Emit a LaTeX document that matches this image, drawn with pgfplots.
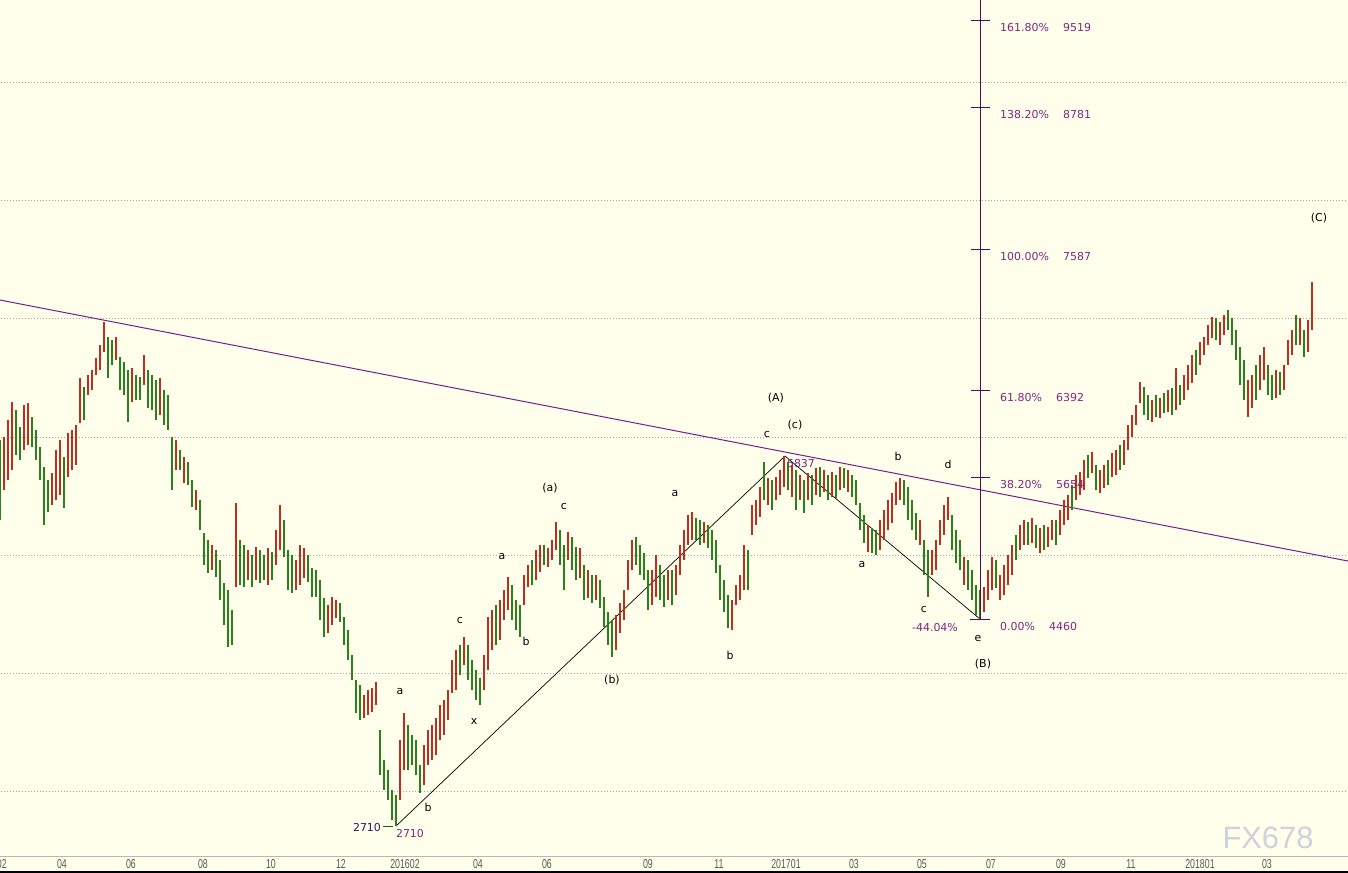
\documentclass[border=0pt]{standalone}
\usepackage{fontspec}
\usepackage{pgfplots}
\usepackage{pgfplotstable}
\pgfplotsset{compat=1.18}
\setmainfont{DejaVu Sans}
\newfontfamily\tickfont[FakeStretch=0.68]{Liberation Sans}
\newfontfamily\wmfont{Liberation Sans}

\definecolor{bg}{RGB}{255,255,235}
\definecolor{upc}{RGB}{190,45,30}
\definecolor{dnc}{RGB}{40,130,25}
\definecolor{trend}{RGB}{120,30,140}
\definecolor{fibc}{RGB}{80,10,80}
\definecolor{fibt}{RGB}{128,40,128}
\definecolor{gridc}{RGB}{165,165,165}
\definecolor{baseline}{RGB}{60,90,95}

% daily bars: x = bar position, h = high, l = low, c = 1 up / 0 down
\pgfplotstableread{
x h l c
0 5973 5296 0
4 5998 5550 1
8 6142 5634 1
12 6294 5719 1
16 6226 5846 0
20 6083 5804 0
24 6269 5888 1
28 6286 5931 1
32 6167 5914 0
36 6057 5804 0
40 5914 5634 0
44 5744 5254 0
48 5634 5364 0
52 5693 5423 1
56 5888 5465 1
60 5973 5508 1
64 5829 5397 0
68 6032 5660 1
72 6057 5719 1
76 6100 5761 1
80 6497 6117 1
84 6421 6142 0
88 6522 6353 1
92 6565 6396 1
96 6666 6522 1
100 6776 6565 1
104 6970 6717 1
108 6843 6497 0
112 6818 6607 0
116 6843 6649 1
120 6674 6396 0
124 6632 6353 0
128 6565 6125 0
132 6581 6294 1
136 6522 6311 0
140 6505 6311 0
144 6691 6438 1
148 6565 6243 0
152 6522 6226 0
156 6480 6142 0
160 6497 6184 1
164 6396 6100 0
168 6353 6057 0
172 5998 5550 0
176 5973 5719 1
180 5888 5719 0
184 5829 5609 1
188 5787 5592 0
192 5634 5406 0
196 5550 5381 1
200 5465 5212 0
204 5186 4916 0
208 5127 4848 0
212 5085 4873 1
216 5043 4815 0
220 4958 4620 0
224 4764 4409 0
228 4705 4223 0
232 4536 4240 0
236 5440 4730 1
240 5127 4747 0
244 5085 4730 0
248 5043 4789 1
252 5001 4730 0
256 5068 4789 1
260 5043 4764 0
264 5001 4789 0
268 5060 4747 1
272 5026 4789 0
276 5212 4916 1
280 5423 5043 1
284 5296 4984 0
288 5043 4705 0
292 5001 4679 0
296 4958 4705 1
300 5085 4747 1
304 5060 4806 1
308 5001 4772 0
312 4891 4645 0
316 4874 4645 0
320 4789 4451 0
324 4637 4307 0
328 4578 4341 1
332 4645 4409 1
336 4620 4468 1
340 4595 4434 0
344 4476 4240 0
348 4366 4113 0
352 4155 3944 0
356 3944 3665 0
360 3902 3606 0
364 3817 3623 1
368 3860 3648 1
372 3877 3674 1
376 3927 3733 1
380 3522 3141 0
384 3268 3015 0
388 3184 2930 0
392 3015 2761 0
396 2972 2710 0
400 3437 2930 1
404 3665 3184 1
408 3564 3184 0
412 3479 3226 0
416 3437 3141 0
420 3226 2989 0
424 3395 3057 1
428 3522 3226 1
432 3564 3268 1
436 3623 3310 1
440 3733 3437 1
444 3775 3479 1
448 3860 3606 1
452 4113 3834 1
456 4198 3860 1
460 4240 3987 0
464 4307 4071 1
468 4240 3944 0
472 4113 3860 0
476 4029 3775 0
480 3961 3733 0
484 4155 3860 1
488 4476 4029 1
492 4536 4198 1
496 4578 4240 0
500 4620 4282 1
504 4705 4451 1
508 4815 4536 1
512 4747 4451 0
516 4620 4366 0
520 4578 4307 0
524 4832 4578 1
528 4916 4730 1
532 4958 4747 0
536 5043 4789 1
540 5085 4857 1
544 5085 4916 0
548 5060 4899 1
552 5127 4958 1
556 5280 5043 1
560 5212 4916 0
564 5085 4705 0
568 5195 4958 1
572 5153 4874 0
576 5068 4789 0
580 5060 4806 1
584 4916 4620 0
588 4874 4637 1
592 4832 4595 0
596 4832 4620 1
600 4789 4553 0
604 4645 4392 0
608 4519 4240 0
612 4451 4138 0
616 4493 4198 1
620 4595 4341 1
624 4705 4451 1
628 4958 4705 1
632 5127 4874 1
636 5153 4916 0
640 5085 4832 0
644 5018 4789 0
648 4874 4536 0
652 4874 4578 1
656 5001 4645 1
660 4916 4620 0
664 4832 4561 0
668 4874 4620 1
672 4874 4578 0
676 4916 4663 1
680 5085 4832 1
684 5212 4958 1
688 5339 5085 1
692 5364 5127 1
696 5313 5127 0
700 5296 5085 0
704 5280 5102 1
708 5254 5060 0
712 5212 4958 0
716 5127 4848 0
720 4916 4620 0
724 4789 4519 0
728 4663 4384 0
732 4620 4366 1
736 4747 4578 1
740 4832 4620 1
744 5085 4705 1
748 5043 4705 0
752 5423 5170 1
756 5465 5254 1
760 5575 5322 1
764 5787 5465 0
768 5651 5423 1
772 5634 5381 0
776 5660 5465 1
780 5719 5508 1
784 5837 5575 1
788 5787 5550 0
792 5761 5491 1
796 5719 5381 0
800 5676 5465 1
804 5634 5356 0
808 5693 5465 1
812 5676 5423 0
816 5736 5508 1
820 5744 5491 0
824 5719 5533 1
828 5676 5465 0
832 5702 5491 1
836 5676 5482 0
840 5744 5550 1
844 5736 5567 0
848 5719 5533 1
852 5676 5491 0
856 5634 5423 0
860 5440 5212 0
864 5339 5102 0
868 5254 5026 1
872 5229 5018 0
876 5212 5001 0
880 5296 5043 1
884 5381 5127 1
888 5465 5212 1
892 5525 5271 1
896 5617 5423 1
900 5651 5465 1
904 5634 5423 0
908 5575 5296 0
912 5465 5212 0
916 5356 5127 0
920 5296 5085 1
924 5127 4832 0
928 5043 4645 0
932 5043 4832 1
936 5127 4874 1
940 5296 5085 1
944 5423 5170 1
948 5491 5296 1
952 5339 5043 0
956 5212 4933 0
960 5127 4874 0
964 4984 4747 1
968 4958 4705 0
972 4874 4620 0
976 4747 4493 0
980 4705 4460 0
984 4730 4519 1
988 4874 4620 1
992 4984 4705 1
996 4958 4722 0
1000 4832 4620 1
1004 4916 4663 1
1008 5001 4747 1
1012 5085 4832 1
1016 5170 4958 0
1020 5254 5043 1
1024 5296 5085 1
1028 5280 5085 0
1032 5313 5102 1
1036 5254 5060 0
1040 5229 5018 1
1044 5254 5043 0
1048 5237 5068 1
1052 5296 5127 1
1056 5296 5085 0
1060 5381 5170 1
1064 5465 5254 1
1068 5508 5296 1
1072 5592 5381 0
1076 5676 5465 1
1080 5702 5508 1
1084 5804 5550 1
1088 5846 5651 0
1092 5871 5693 1
1096 5761 5550 0
1100 5719 5525 1
1104 5761 5567 1
1108 5804 5592 0
1112 5863 5660 1
1116 5888 5676 1
1120 5931 5719 0
1124 5973 5761 1
1128 6100 5888 1
1132 6184 5998 1
1136 6269 6100 1
1140 6463 6286 1
1144 6421 6184 0
1148 6353 6142 0
1152 6311 6125 1
1156 6353 6167 0
1160 6328 6159 1
1164 6370 6201 0
1168 6396 6210 1
1172 6413 6184 0
1176 6581 6226 1
1180 6438 6269 0
1184 6522 6311 1
1188 6607 6396 1
1192 6691 6455 1
1196 6734 6522 0
1200 6801 6607 1
1204 6843 6691 1
1208 6945 6776 1
1212 7012 6835 1
1216 7004 6818 0
1220 6970 6776 1
1224 7029 6860 1
1228 7071 6903 0
1232 7004 6776 0
1236 6903 6649 0
1240 6759 6438 0
1244 6649 6311 0
1248 6480 6167 1
1252 6522 6243 1
1256 6607 6311 0
1260 6691 6396 1
1264 6759 6480 1
1268 6607 6353 0
1272 6522 6311 0
1276 6565 6328 1
1280 6548 6353 0
1284 6607 6396 1
1288 6818 6607 1
1292 6903 6691 1
1296 7029 6776 0
1300 7004 6776 1
1304 6903 6674 0
1308 6987 6717 1
1312 7308 6903 1
}\bars

\begin{document}
\begin{tikzpicture}[
    lab/.style={font=\fontsize{11}{13}\selectfont, inner sep=0pt},
    flab/.style={lab, text=fibt, anchor=west, yshift=-7bp}]
\path[use as bounding box] (0,-17bp) rectangle (1348bp,856bp);
\clip (0,-17bp) rectangle (1348bp,856bp);
\fill[bg] (0,-17bp) rectangle (1348bp,856bp);
\begin{axis}[
    at={(-20bp,0)}, anchor=south west,
    scale only axis, width=1368bp, height=856bp,
    xmin=-20, xmax=1348, ymin=2457, ymax=9692,
    axis line style={draw=none},
    major tick length=0pt,
    ytick={3000,4000,5000,6000,7000,8000,9000},
    yticklabels={},
    ymajorgrids,
    grid style={gridc, line width=0.6bp, dash pattern=on 1bp off 2bp},
    xtick={-8,62,131,203,271,341,405,478,547,648,719,786,854,922,991,1061,1131,1200,1267},
    xticklabels={201502,04,06,08,10,12,201602,04,06,09,11,201701,03,05,07,09,11,201801,03},
    xticklabel style={font=\tickfont\fontsize{13}{14}\selectfont, text=black!65, anchor=center, yshift=-8bp},
    clip=false,
]
% trend line
\addplot[trend, line width=1bp] coordinates {(0,7156) (1348,4950)};
% wave lines
\addplot[black, line width=0.7bp] coordinates {(396,2710) (785,5837) (980,4460)};
% down bars
\addplot[draw=none, mark=none, restrict expr to domain={\thisrow{c}}{-0.5:0.5},
    error bars/.cd, y dir=minus, y explicit, error mark=none,
    error bar style={draw=dnc, line width=2.2bp}]
    table[x=x, y=h, y error expr=\thisrow{h}-\thisrow{l}] {\bars};
% up bars
\addplot[draw=none, mark=none, restrict expr to domain={\thisrow{c}}{0.5:1.5},
    error bars/.cd, y dir=minus, y explicit, error mark=none,
    error bar style={draw=upc, line width=2.2bp}]
    table[x=x, y=h, y error expr=\thisrow{h}-\thisrow{l}] {\bars};
% fibonacci scale
\addplot[fibc, line width=1bp] coordinates {(980,4460) (980,9692)};
\addplot[fibc, line width=0.8bp, unbounded coords=jump] coordinates {
    (971,9519) (990,9519) (nan,nan)
    (971,8781) (990,8781) (nan,nan)
    (971,7587) (990,7587) (nan,nan)
    (971,6392) (990,6392) (nan,nan)
    (971,5654) (990,5654) (nan,nan)
    (970,4460) (990,4460)};
\addplot[dnc!70!black, line width=0.8bp] coordinates {(383,2710) (393,2710)};
\draw[gridc!80, line width=0.8bp] (rel axis cs:0,0) -- (rel axis cs:1,0);

\node[flab] at (axis cs:1000,9519) {161.80\%};
\node[flab] at (axis cs:1063,9519) {9519};
\node[flab] at (axis cs:1000,8781) {138.20\%};
\node[flab] at (axis cs:1063,8781) {8781};
\node[flab] at (axis cs:1000,7587) {100.00\%};
\node[flab] at (axis cs:1063,7587) {7587};
\node[flab] at (axis cs:1000,6392) {61.80\%};
\node[flab] at (axis cs:1056,6392) {6392};
\node[flab] at (axis cs:1000,5654) {38.20\%};
\node[flab] at (axis cs:1056,5654) {5654};
\node[flab] at (axis cs:1000,4460) {0.00\%};
\node[flab] at (axis cs:1049,4460) {4460};
\node[lab, text=fibt] at (axis cs:935,4392) {-44.04\%};
\node[lab, text=fibt] at (axis cs:801,5778) {5837};
\node[lab, text=fibt] at (axis cs:410,2651) {2710};
\node[lab, text={rgb,255:red,30;green,30;blue,100}] at (axis cs:367,2701) {2710};

\node[lab] at (axis cs:776,6328) {(A)};
\node[lab] at (axis cs:795,6099) {(c)};
\node[lab] at (axis cs:767,6023) {c};
\node[lab] at (axis cs:550,5567) {(a)};
\node[lab] at (axis cs:564,5415) {c};
\node[lab] at (axis cs:675,5525) {a};
\node[lab] at (axis cs:502,4992) {a};
\node[lab] at (axis cs:526,4274) {b};
\node[lab] at (axis cs:460,4451) {c};
\node[lab] at (axis cs:400,3851) {a};
\node[lab] at (axis cs:474,3597) {x};
\node[lab] at (axis cs:428,2870) {b};
\node[lab] at (axis cs:612,3944) {(b)};
\node[lab] at (axis cs:730,4155) {b};
\node[lab] at (axis cs:898,5838) {b};
\node[lab] at (axis cs:948,5770) {d};
\node[lab] at (axis cs:862,4924) {a};
\node[lab] at (axis cs:924,4544) {c};
\node[lab] at (axis cs:978,4299) {e};
\node[lab] at (axis cs:983,4079) {(B)};
\node[lab] at (axis cs:1319,7849) {(C)};
\node[inner sep=0pt, font=\wmfont\fontsize{31}{32}\selectfont, text={rgb,255:red,205;green,210;blue,220}] at (axis cs:1268,2608) {FX678};
\end{axis}
\fill[baseline] (0,-17bp) rectangle (1348bp,-15bp);
\end{tikzpicture}
\end{document}
